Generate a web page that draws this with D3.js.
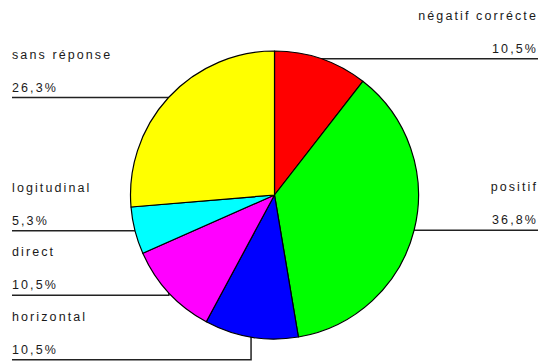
<!DOCTYPE html>
<html>
<head>
<meta charset="utf-8">
<script src="https://cdn.jsdelivr.net/npm/d3@7/dist/d3.min.js"></script>
<style>
  html, body { margin: 0; padding: 0; background: #fff; }
  svg { display: block; }
  text { font-family: "Liberation Sans", Arial, sans-serif; font-size: 12.5px; letter-spacing: 2.1px; fill: #1a1a1a; }
</style>
</head>
<body>
<script>
const categories = ["négatif corrécte", "positif", "horizontal", "direct", "logitudinal", "sans réponse"];
const values = [10.5, 36.8, 10.5, 10.5, 5.3, 26.3];
const valueLabels = ["10,5%", "36,8%", "10,5%", "10,5%", "5,3%", "26,3%"];
const colors = ["#ff0000", "#00ff00", "#0000ff", "#ff00ff", "#00ffff", "#ffff00"];

const W = 540, H = 362;
const cx = 274.5, cy = 195, r = 144;
const leftX = 12, rightX = 538, minGap = 64.5;

const svg = d3.select("body").append("svg").attr("width", W).attr("height", H);

const data = categories.map((c, i) => ({ name: c, value: values[i], label: valueLabels[i], color: colors[i] }));
const pie = d3.pie().sort(null).value(d => d.value);
const arcs = pie(data);
const arc = d3.arc().innerRadius(0).outerRadius(r);

arcs.forEach(a => {
  const mid = (a.startAngle + a.endAngle) / 2;
  a.midX = cx + r * Math.sin(mid);
  a.midY = cy - r * Math.cos(mid);
  a.side = a.midX >= cx ? "right" : "left";
});

["left", "right"].forEach(side => {
  const group = arcs.filter(a => a.side === side).sort((p, q) => p.midY - q.midY);
  let prev = -Infinity;
  group.forEach(a => {
    a.lineY = Math.max(a.midY, prev + minGap);
    prev = a.lineY;
  });
});

const labels = svg.append("g");
arcs.forEach(a => {
  const x0 = a.side === "left" ? leftX : rightX;
  labels.append("path")
    .attr("d", `M${x0},${a.lineY}H${a.midX}V${a.midY}`)
    .attr("fill", "none")
    .attr("stroke", "#222")
    .attr("stroke-width", 1.5);
  const anchor = a.side === "left" ? "start" : "end";
  labels.append("text")
    .attr("x", x0).attr("y", a.lineY - 39)
    .attr("text-anchor", anchor)
    .text(a.data.name);
  labels.append("text")
    .attr("x", x0).attr("y", a.lineY - 6)
    .attr("text-anchor", anchor)
    .text(a.data.label);
});

svg.append("g")
  .attr("transform", `translate(${cx},${cy})`)
  .selectAll("path")
  .data(arcs)
  .join("path")
  .attr("d", arc)
  .attr("fill", d => d.data.color)
  .attr("stroke", "#000")
  .attr("stroke-width", 1.2)
  .attr("stroke-linejoin", "round");
</script>
</body>
</html>
